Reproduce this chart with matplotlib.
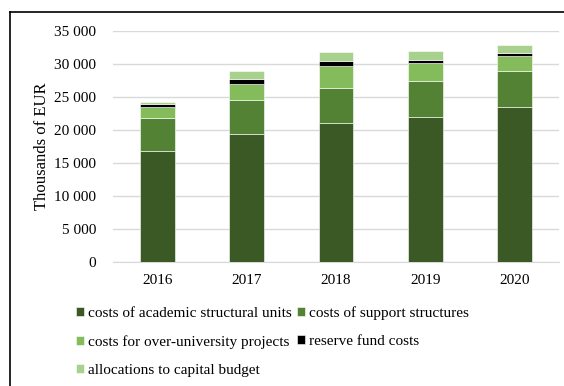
import matplotlib.pyplot as plt
from matplotlib.lines import Line2D
import numpy as np

years = ['2016', '2017', '2018', '2019', '2020']
academic_units = [16770, 19340, 20960, 21920, 23430]
support_structures = [4950, 5150, 5350, 5450, 5510]
over_university = [1660, 2480, 3390, 2780, 2220]
reserve_fund = [460, 660, 700, 410, 410]
capital_budget = [350, 1310, 1320, 1410, 1210]

series = [
    ('costs of academic structural units', academic_units, '#3B5924'),
    ('costs of support structures', support_structures, '#548235'),
    ('costs for over-university projects', over_university, '#84BC5C'),
    ('reserve fund costs', reserve_fund, '#000000'),
    ('allocations to capital budget', capital_budget, '#A9D18E'),
]

plt.rcParams['font.family'] = 'Liberation Serif'

fig = plt.figure(figsize=(5.64, 3.86), dpi=100)
ax = fig.add_axes([113 / 564, 1 - 261.7 / 386, 446 / 564, 231 / 386])

x = np.arange(len(years))
bottom = np.zeros(len(years))
handles = []
for label, vals, color in series:
    b = ax.bar(x, vals, 0.39, bottom=bottom, color=color, label=label,
               edgecolor='white', linewidth=0.4, zorder=3)
    bottom += np.array(vals)
    handles.append(b)

ax.set_ylim(0, 35000)
ax.set_xlim(-0.5, len(years) - 0.5)
ax.set_yticks(range(0, 35001, 5000))
ax.set_yticklabels(['0' if v == 0 else '{:,}'.format(v).replace(',', ' ')
                    for v in range(0, 35001, 5000)])
ax.set_xticks(x)
ax.set_xticklabels(years)
ax.tick_params(length=0, labelsize=11, pad=9)
ax.tick_params(axis='y', pad=12)
ax.grid(axis='y', color='#D9D9D9', linewidth=1, zorder=0)
for s in ['top', 'right', 'left']:
    ax.spines[s].set_visible(False)
ax.spines['bottom'].set_color('#D9D9D9')
ax.set_ylabel('Thousands of EUR', fontsize=12, labelpad=3)

# row-wise order for the two-column legend
order = [0, 2, 4, 1, 3]
fig.legend([handles[i] for i in order], [series[i][0] for i in order],
           ncol=2, loc='upper left', bbox_to_anchor=(76 / 564, 1 - 306 / 386),
           frameon=False, fontsize=11, handlelength=0.55, handleheight=0.55,
           handletextpad=0.25, columnspacing=0.3, labelspacing=0.98,
           borderaxespad=0, borderpad=0)

# outer frame
fig.add_artist(Line2D([10 / 564, 10 / 564], [0, 1 - 12 / 386],
                      color='black', linewidth=1.2, transform=fig.transFigure))
fig.add_artist(Line2D([10 / 564, 1], [1 - 12 / 386, 1 - 12 / 386],
                      color='black', linewidth=1.2, transform=fig.transFigure))

fig.savefig('out.png', dpi=100)
